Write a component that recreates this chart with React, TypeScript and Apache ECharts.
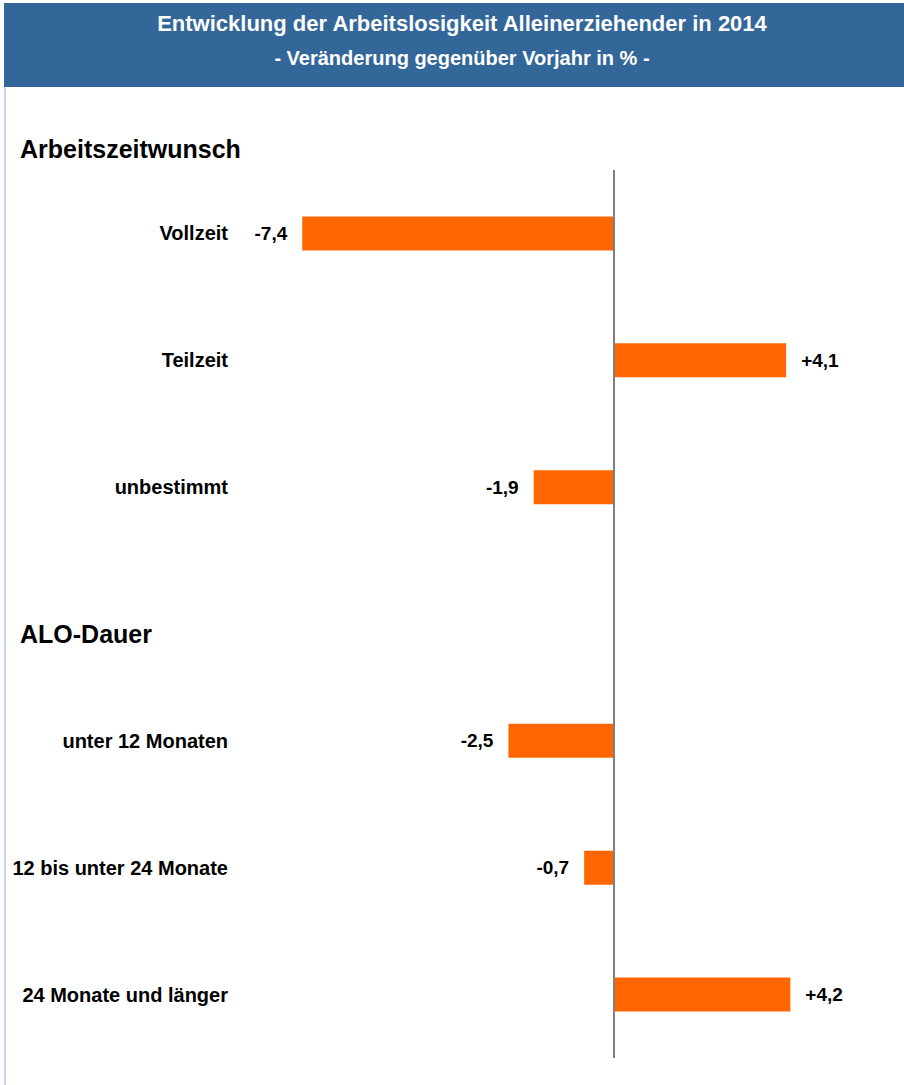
import React, { useEffect, useRef } from "react";
import * as echarts from "echarts";

const titleText = "Entwicklung der Arbeitslosigkeit Alleinerziehender in 2014";
const subtitleText = "- Veränderung gegenüber Vorjahr in % -";
const sectionHeaders = ["Arbeitszeitwunsch", "ALO-Dauer"];
const categories = [
  "Vollzeit",
  "Teilzeit",
  "unbestimmt",
  "",
  "unter 12 Monaten",
  "12 bis unter 24 Monate",
  "24 Monate und länger",
];
const values: (number | null)[] = [-7.4, 4.1, -1.9, null, -2.5, -0.7, 4.2];

const fmt = (v: number) => (v > 0 ? "+" : "") + v.toFixed(1).replace(".", ",");

export default function App() {
  const ref = useRef<HTMLDivElement>(null);
  useEffect(() => {
    if (!ref.current) return;
    const chart = echarts.init(ref.current, null, { renderer: "svg" });
    const font = "Arial, 'Liberation Sans', sans-serif";
    chart.setOption({
      animation: false,
      backgroundColor: "#ffffff",
      textStyle: { fontFamily: font },
      graphic: [
        {
          type: "rect",
          shape: { x: 4, y: 3, width: 900, height: 84 },
          style: { fill: "#336699" },
          silent: true,
        },
        {
          type: "line",
          shape: { x1: 5, y1: 87, x2: 5, y2: 1085 },
          style: { stroke: "#8eaadb", lineWidth: 1 },
          silent: true,
        },
        {
          type: "text",
          x: 462,
          y: 23,
          style: {
            text: titleText,
            fill: "#ffffff",
            font: `bold 22px ${font}`,
            textAlign: "center",
            textVerticalAlign: "middle",
          },
        },
        {
          type: "text",
          x: 462,
          y: 58,
          style: {
            text: subtitleText,
            fill: "#ffffff",
            font: `bold 20px ${font}`,
            textAlign: "center",
            textVerticalAlign: "middle",
          },
        },
        {
          type: "text",
          x: 20,
          y: 149,
          style: {
            text: sectionHeaders[0],
            fill: "#000000",
            font: `bold 25px ${font}`,
            textAlign: "left",
            textVerticalAlign: "middle",
          },
        },
        {
          type: "text",
          x: 20,
          y: 634,
          style: {
            text: sectionHeaders[1],
            fill: "#000000",
            font: `bold 25px ${font}`,
            textAlign: "left",
            textVerticalAlign: "middle",
          },
        },
      ],
      grid: { left: 277, right: 80, top: 170, bottom: 27, containLabel: false },
      xAxis: {
        type: "value",
        min: -8,
        max: 5,
        show: false,
      },
      yAxis: {
        type: "category",
        data: categories,
        inverse: true,
        axisLine: { show: false, onZero: false },
        axisTick: { show: false },
        axisLabel: {
          margin: 49,
          color: "#000000",
          fontWeight: "bold",
          fontSize: 20,
          fontFamily: font,
        },
      },
      series: [
        {
          type: "bar",
          barWidth: 34,
          itemStyle: { color: "#ff6600" },
          data: values.map((v) =>
            v === null
              ? null
              : {
                  value: v,
                  label: {
                    show: true,
                    position: v < 0 ? "left" : "right",
                    distance: 15,
                    formatter: () => fmt(v),
                    color: "#000000",
                    fontWeight: "bold",
                    fontSize: 19,
                    fontFamily: font,
                  },
                }
          ),
          markLine: {
            silent: true,
            symbol: "none",
            label: { show: false },
            lineStyle: { color: "#808080", width: 2, type: "solid" },
            data: [{ xAxis: 0 }],
          },
        },
      ],
    });
    return () => chart.dispose();
  }, []);
  return (
    <div
      ref={ref}
      style={{ position: "fixed", left: 0, top: 0, width: 904, height: 1085 }}
    />
  );
}
